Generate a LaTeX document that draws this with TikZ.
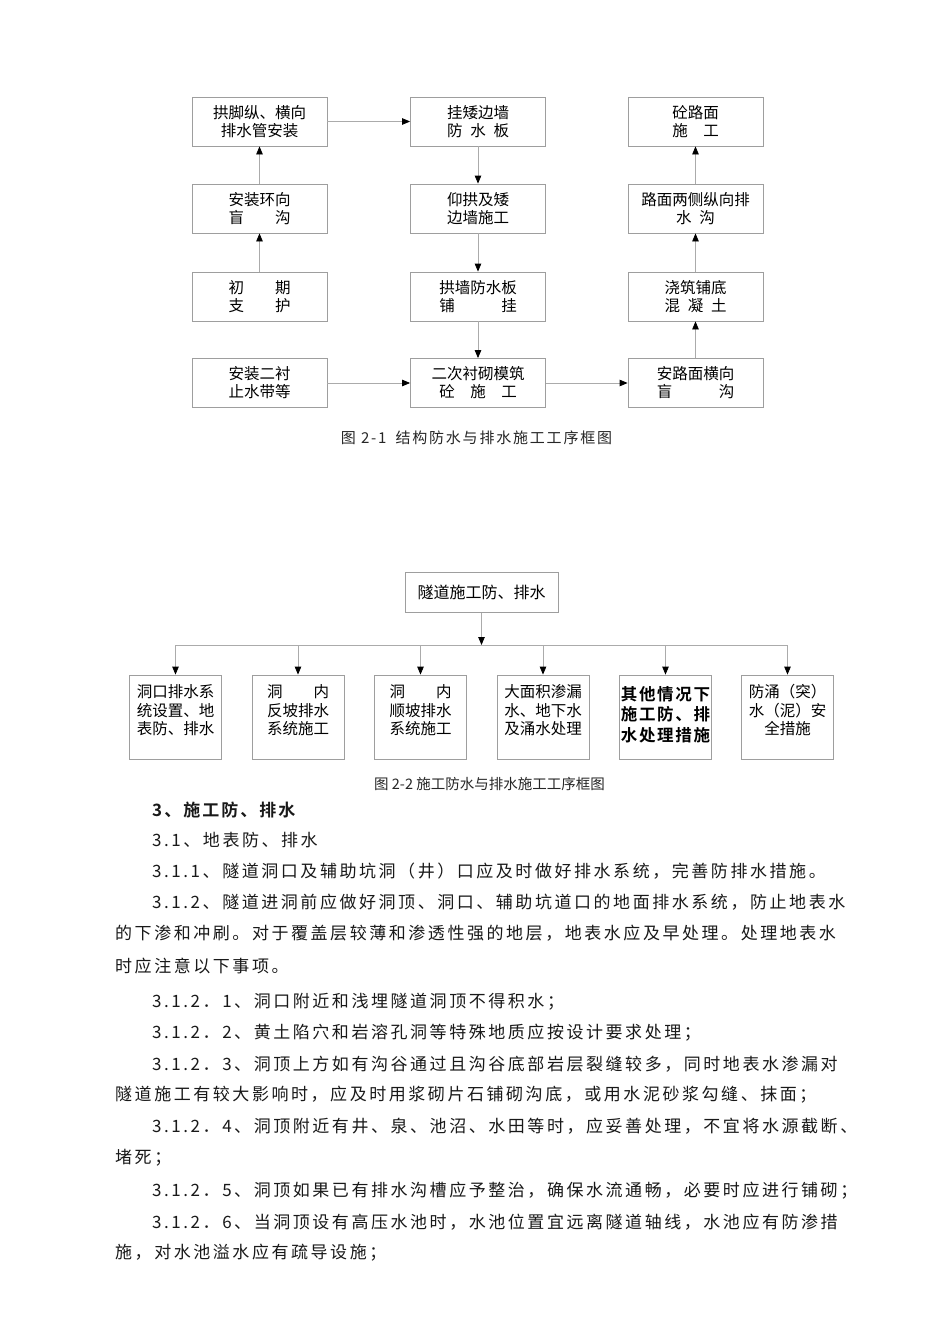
\documentclass[tikz,border=0pt]{standalone}
\usepackage{fontspec}
\usetikzlibrary{arrows.meta,calc}
\newfontfamily\cjk{Noto Sans CJK SC}
\newfontfamily\cjkbody[LetterSpace=15]{Noto Sans CJK SC}
\newfontfamily\cjkwide[LetterSpace=12]{Noto Sans CJK SC}
\newfontfamily\cjkbold[LetterSpace=10]{Noto Sans CJK SC Bold}
\newfontfamily\cjkhead[LetterSpace=12]{Noto Sans CJK SC Bold}
\tikzset{
  stepbox/.style={draw=black!38, line width=0.8pt, minimum width=135pt, minimum height=49pt,
    inner sep=0pt, align=center, font=\cjk\fontsize{15.5}{18}\selectfont},
  subbox/.style={draw=black!38, line width=0.8pt, minimum width=92pt, minimum height=84pt,
    inner sep=0pt, align=center, text depth=15pt, font=\cjk\fontsize{15.5}{18.2}\selectfont},
  wire/.style={draw=black!33, line width=0.8pt},
  conn/.style={wire, -{Triangle[length=8pt,width=6.5pt,color=black]}},
  caption/.style={inner sep=0pt, text=black!85},
  bodyline/.style={anchor=west, inner sep=0pt, text=black!90, font=\cjkbody\fontsize{17}{20}\selectfont}
}
\begin{document}
\begin{tikzpicture}[x=1pt,y=-1pt]
  \useasboundingbox[fill=white] (0,0) rectangle (950,1344);

  % Figure 2-1: steps in three columns
  \node[stepbox] (a1) at (259.5,121.5) {拱脚纵、横向\\排水管安装};
  \node[stepbox] (a2) at (259.5,208.5) {安装环向\\盲　　沟};
  \node[stepbox] (a3) at (259.5,296.5) {初　　期\\支　　护};
  \node[stepbox] (a4) at (259.5,383) {安装二衬\\止水带等};

  \node[stepbox] (b1) at (478,121.5) {挂矮边墙\\防\hspace{0.5em}水\hspace{0.5em}板};
  \node[stepbox] (b2) at (478,208.5) {仰拱及矮\\边墙施工};
  \node[stepbox] (b3) at (478,296.5) {拱墙防水板\\铺　　　挂};
  \node[stepbox] (b4) at (478,383) {二次衬砌模筑\\砼　施　工};

  \node[stepbox] (c1) at (695.5,121.5) {砼路面\\施　工};
  \node[stepbox] (c2) at (695.5,208.5) {路面两侧纵向排\\水\hspace{0.5em}沟};
  \node[stepbox] (c3) at (695.5,296.5) {浇筑铺底\\混\hspace{0.5em}凝\hspace{0.5em}土};
  \node[stepbox] (c4) at (695.5,383) {安路面横向\\盲　　　沟};

  % Order of work
  \draw[conn] (a3) -- (a2);
  \draw[conn] (a2) -- (a1);
  \draw[conn] (a1) -- (b1);
  \draw[conn] (b1) -- (b2);
  \draw[conn] (b2) -- (b3);
  \draw[conn] (b3) -- (b4);
  \draw[conn] (a4) -- (b4);
  \draw[conn] (b4) -- (c4);
  \draw[conn] (c4) -- (c3);
  \draw[conn] (c3) -- (c2);
  \draw[conn] (c2) -- (c1);

  \node[caption, font=\cjkwide\fontsize{15}{18}\selectfont] (cap1) at (476.5,438)
    {图 2-1\hspace{0.6em}结构防水与排水施工工序框图};

  % Figure 2-2: one root, six branches
  \node[stepbox, minimum width=153pt, minimum height=40pt, font=\cjk\fontsize{16}{18}\selectfont]
    (top) at (481.5,592.5) {隧道施工防、排水};
  \coordinate (bus) at (481.5,645);

  \node[subbox] (d1) at (175.5,717) {洞口排水系\\统设置、地\\表防、排水};
  \node[subbox] (d2) at (298,717) {洞　　内\\反坡排水\\系统施工};
  \node[subbox] (d3) at (420.5,717) {洞　　内\\顺坡排水\\系统施工};
  \node[subbox] (d4) at (543,717) {大面积渗漏\\水、地下水\\及涌水处理};
  \node[subbox, text depth=7pt, font=\cjkbold\fontsize{16.5}{20.5}\selectfont]
    (d5) at (665.5,717) {其他情况下\\施工防、排\\水处理措施};
  \node[subbox] (d6) at (787.5,717) {防涌（突）\\水（泥）安\\全措施};

  \draw[conn] (top) -- (bus);
  \draw[wire] (d1.north |- bus) -- (d6.north |- bus);
  \foreach \i in {1,...,6}
    \draw[conn] (d\i.north |- bus) -- (d\i);

  \node[caption, font=\cjk\fontsize{14.5}{17}\selectfont] (cap2) at (489.5,784)
    {图 2-2 施工防水与排水施工工序框图};

  % Section text
  \node[bodyline, font=\cjkhead\fontsize{17}{20}\selectfont] (s3) at (152,810) {3、施工防、排水};
  \node[bodyline] (s31) at (152,840) {3.1、地表防、排水};
  \node[bodyline] (s311) at (152,871) {3.1.1、隧道洞口及辅助坑洞（井）口应及时做好排水系统，完善防排水措施。};
  \node[bodyline] (s312a) at (152,902) {3.1.2、隧道进洞前应做好洞顶、洞口、辅助坑道口的地面排水系统，防止地表水};
  \node[bodyline] (s312b) at (115,933) {的下渗和冲刷。对于覆盖层较薄和渗透性强的地层，地表水应及早处理。处理地表水};
  \node[bodyline] (s312c) at (115,966) {时应注意以下事项。};
  \node[bodyline] (p1) at (152,1002) {3.1.2．1、洞口附近和浅埋隧道洞顶不得积水；};
  \node[bodyline] (p2) at (152,1033) {3.1.2．2、黄土陷穴和岩溶孔洞等特殊地质应按设计要求处理；};
  \node[bodyline] (p3a) at (152,1064) {3.1.2．3、洞顶上方如有沟谷通过且沟谷底部岩层裂缝较多，同时地表水渗漏对};
  \node[bodyline] (p3b) at (115,1095) {隧道施工有较大影响时，应及时用浆砌片石铺砌沟底，或用水泥砂浆勾缝、抹面；};
  \node[bodyline] (p4a) at (152,1126) {3.1.2．4、洞顶附近有井、泉、池沼、水田等时，应妥善处理，不宜将水源截断、};
  \node[bodyline] (p4b) at (115,1158) {堵死；};
  \node[bodyline] (p5) at (152,1191) {3.1.2．5、洞顶如果已有排水沟槽应予整治，确保水流通畅，必要时应进行铺砌；};
  \node[bodyline] (p6a) at (152,1222) {3.1.2．6、当洞顶设有高压水池时，水池位置宜远离隧道轴线，水池应有防渗措};
  \node[bodyline] (p6b) at (115,1253) {施，对水池溢水应有疏导设施；};
\end{tikzpicture}
\end{document}
